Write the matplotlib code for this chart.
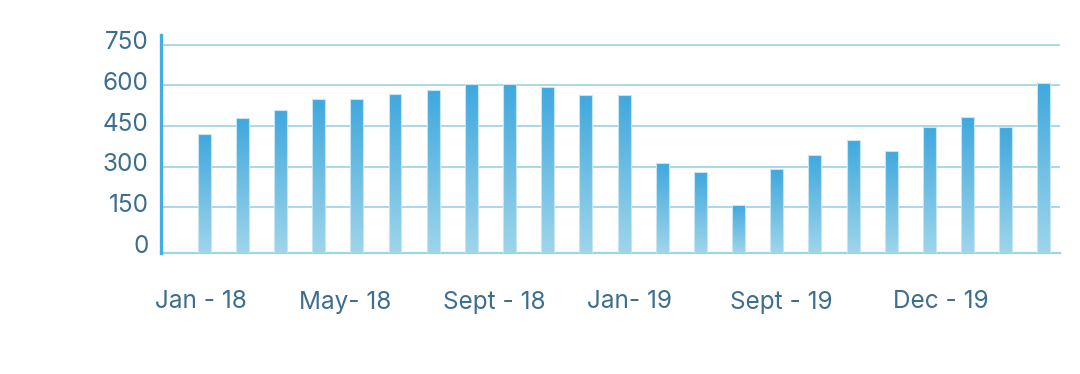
import numpy as np
import matplotlib
matplotlib.use("Agg")
import matplotlib.pyplot as plt
from matplotlib.transforms import ScaledTranslation
from matplotlib.colors import LinearSegmentedColormap

# ---- data ----
values = [420, 480, 510, 550, 550, 570, 585, 605, 605, 595, 565, 565,
          315, 280, 160, 290, 345, 400, 360, 445, 485, 445, 610]
x_labels = ["Jan - 18", "May- 18", "Sept - 18", "Jan- 19", "Sept - 19", "Dec - 19"]
x_label_pos = [-0.08, 3.69, 7.59, 11.15, 15.13, 19.29]
y_ticks = [150, 300, 450, 600, 750]
y_tick_labels = ["0", "150", "300", "450", "600", "750"]

TEXT = "#3b6e8f"
GRID = "#a9d8e8"
plt.rcParams['font.family'] = ['Inter', 'DejaVu Sans']

fig = plt.figure(figsize=(10.8, 3.74), dpi=100)
ax = fig.add_axes([161/1080, 121/374, 899/1080, 218/374])

y_floor = -18
y_top = 786
x = np.arange(len(values))
bars = ax.bar(x, [v - y_floor for v in values], bottom=y_floor, width=0.34,
              color="none", edgecolor="#c4e6f3", linewidth=0.8, zorder=4)

cmap = LinearSegmentedColormap.from_list("g", ["#9fd5ea", "#3fa8de"])
grad = np.linspace(0, 1, 256).reshape(-1, 1)
for b in bars:
    x0, y0 = b.get_x(), b.get_y()
    w, h = b.get_width(), b.get_height()
    im = ax.imshow(grad, cmap=cmap, origin="lower", aspect="auto",
                   extent=(x0, x0 + w, y0, y0 + h), zorder=3)
    im.set_clip_path(b)

ax.set_xlim(-1.13, 22.42)
ax.set_ylim(y_floor, y_top)

for t in y_ticks:
    ax.axhline(t, color=GRID, lw=1.4, zorder=1)

ax.set_yticks([0] + y_ticks)
ax.set_yticklabels(y_tick_labels, fontsize=17.5, color=TEXT)
ax.tick_params(axis="y", length=0, pad=9)
for lbl in ax.get_yticklabels():
    lbl.set_transform(lbl.get_transform() + ScaledTranslation(0, 4.5/100, fig.dpi_scale_trans))

ax.set_xticks(x_label_pos)
ax.set_xticklabels(x_labels, fontsize=17.5, color=TEXT)
ax.tick_params(axis="x", length=0, pad=27)

for s in ["top", "right"]:
    ax.spines[s].set_visible(False)
ax.spines["left"].set_color("#45aee0")
ax.spines["left"].set_linewidth(2.4)
ax.spines["bottom"].set_color("#9fd3e8")
ax.spines["bottom"].set_linewidth(1.6)
ax.spines["left"].set_zorder(5)

fig.savefig("out.png", dpi=100, facecolor="white")
